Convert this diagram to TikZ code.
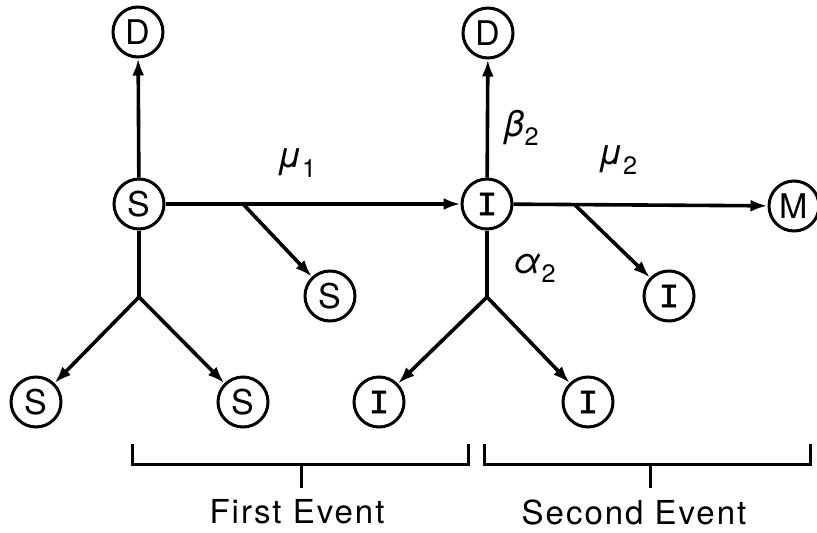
\documentclass[tikz,border=0pt]{standalone}
\usepackage{fontspec}
\setmainfont{TeX Gyre Heros}
\newfontfamily\slabfont{Liberation Mono}[FakeBold=1.5]
\usetikzlibrary{arrows.meta}

\begin{document}
\begin{tikzpicture}[x=1pt,y=-1pt,
    state/.style={draw, circle, line width=3pt, minimum size=50pt, inner sep=0pt, font=\fontsize{34}{34}\selectfont},
    flow/.style={line width=3.6pt, -{Latex[length=17pt,width=12pt]}},
    link/.style={line width=3.6pt},
    rate/.style={font=\fontsize{36}{36}\selectfont\itshape},
    brace/.style={line width=3pt},
    caption/.style={font=\fontsize{33}{33}\selectfont\addfontfeature{LetterSpace=6}}]
    \useasboundingbox (0,0) rectangle (817,533);

    % first event
    \node[state] (deathA) at (138,32) {D};
    \node[state] (susA) at (139,204) {S};
    \node[state] (susB) at (330,296) {S};
    \node[state] (susL) at (36,402) {S};
    \node[state] (susR) at (243,402) {S};
    \coordinate (splitA) at (243,204);
    \coordinate (forkA) at (139,297);

    % second event
    \node[state] (deathB) at (488,33) {D};
    \node[state, font=\fontsize{34}{34}\slabfont] (infA) at (487,204) {I};
    \node[state] (mig) at (794,206) {M};
    \node[state, font=\fontsize{34}{34}\slabfont] (infB) at (669,296) {I};
    \node[state, font=\fontsize{34}{34}\slabfont] (infL) at (379,402) {I};
    \node[state, font=\fontsize{34}{34}\slabfont] (infR) at (588,402) {I};
    \coordinate (splitB) at (575,205);
    \coordinate (forkB) at (487,297);

    \draw[flow] (susA) -- (deathA);
    \draw[flow] (susA) -- (infA);
    \draw[flow] (splitA) -- (susB);
    \draw[link] (susA) -- (forkA);
    \draw[flow] (forkA) -- (susL);
    \draw[flow] (forkA) -- (susR);

    \draw[flow] (infA) -- (deathB);
    \draw[flow] (infA) -- (mig);
    \draw[flow] (splitB) -- (infB);
    \draw[link] (infA) -- (forkB);
    \draw[flow] (forkB) -- (infL);
    \draw[flow] (forkB) -- (infR);

    % rates
    \node[rate] (muA) at (297,163) {μ\textsubscript{\upshape 1}};
    \node[rate] (betaB) at (522,128) {β\textsubscript{\upshape 2}};
    \node[rate] (muB) at (618,160) {μ\textsubscript{\upshape 2}};
    \node[rate] (alphaB) at (535,268) {α\textsubscript{\upshape 2}};

    % brackets
    \draw[brace] (132,444) |- (468,464) -- (468,444);
    \draw[brace] (301,464) -- (301,488);
    \draw[brace] (484,444) |- (810,464) -- (810,444);
    \draw[brace] (650,464) -- (650,488);
    \node[caption] (firstEv) at (297,512) {First Event};
    \node[caption] (secondEv) at (634,512) {Second Event};
\end{tikzpicture}
\end{document}
